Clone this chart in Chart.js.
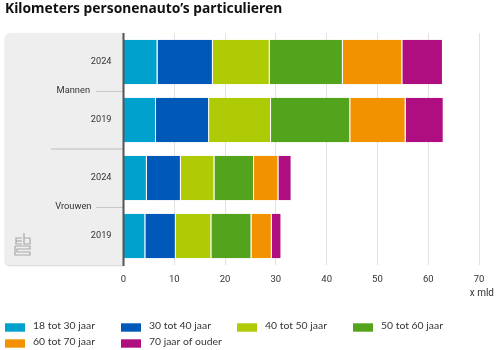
<!DOCTYPE html>
<html><head><meta charset="utf-8">
<style>html,body{margin:0;padding:0;background:#fff}#w{width:500px;height:350px;position:relative}</style>
<script src="https://cdn.jsdelivr.net/npm/chart.js@4"></script></head>
<body><div id="w"><canvas id="c" width="500" height="350"></canvas></div>
<script>
const titleText = "Kilometers personenauto’s particulieren";
const unitLabel = "x mld";
const categories = ["2024","2019","2024","2019"];
const groups = ["Mannen","Vrouwen"];
const age18 = [6.7,6.4,4.6,4.3];
const age30 = [10.9,10.45,6.7,6.0];
const age40 = [11.2,12.2,6.6,7.0];
const age50 = [14.4,15.6,7.8,7.9];
const age60 = [11.7,10.9,4.8,4.0];
const age70 = [8.0,7.5,2.6,1.9];
const seriesNames = ["18 tot 30 jaar","30 tot 40 jaar","40 tot 50 jaar","50 tot 60 jaar","60 tot 70 jaar","70 jaar of ouder"];
const seriesColors = ["#00a1cd","#0058b8","#afcb05","#53a31d","#f39200","#af0e80"];
const seriesValues = [age18,age30,age40,age50,age60,age70];
const FONT = 'Roboto';

const decor = {
  id:'decor',
  beforeDraw(chart){
    const {ctx,chartArea:a,scales:{y}} = chart;
    ctx.save();
    ctx.shadowColor='rgba(0,0,0,0.18)';ctx.shadowBlur=2;ctx.shadowOffsetY=1;ctx.shadowOffsetX=0;
    ctx.fillStyle='#eeeeee';
    ctx.beginPath();ctx.roundRect(5,a.top,a.left-5,a.bottom-a.top,[5,0,0,5]);ctx.fill();
    ctx.restore();
    ctx.save();
    ctx.fillStyle='#333';ctx.font='9.3px '+FONT;ctx.textAlign='center';ctx.textBaseline='middle';
    ctx.strokeStyle='#c8c8c8';ctx.lineWidth=1;
    groups.forEach((g,i)=>{
      const yy=(y.getPixelForValue(i*2)+y.getPixelForValue(i*2+1))/2;
      ctx.fillText(g,73.3,yy);
      ctx.beginPath();ctx.moveTo(96,yy+.5);ctx.lineTo(a.left,yy+.5);ctx.stroke();
    });
    const sy=(y.getPixelForValue(1)+y.getPixelForValue(2))/2;
    ctx.lineWidth=2;ctx.strokeStyle='#d6d6d6';
    ctx.beginPath();ctx.moveTo(51,sy);ctx.lineTo(a.left,sy);ctx.stroke();
    // logo
    ctx.strokeStyle='#a8a8a8';ctx.lineWidth=1.2;
    const L=[
      [[22,238],[16,238],[16,244],[22,244]],
      [[16,241],[22,241]],
      [[24,233],[24,244],[30,244],[30,238],[24,238]],
      [[15,246],[30,246],[30,249],[17,249],[17,252],[30,252],[30,255],[15,255],[15,246]]
    ];
    L.forEach(p=>{ctx.beginPath();p.forEach((q,i)=>i?ctx.lineTo(q[0],q[1]):ctx.moveTo(q[0],q[1]));ctx.stroke();});
    ctx.restore();
  },
  afterDraw(chart){
    const {ctx,chartArea:a} = chart;
    ctx.save();
    ctx.fillStyle='#555';ctx.fillRect(a.left-1,a.top,2,a.bottom-a.top+1);
    ctx.fillStyle='#333';ctx.font='10px '+FONT;ctx.textBaseline='middle';ctx.textAlign='right';
    ctx.fillText(unitLabel,494,293);
    ctx.textAlign='left';ctx.font='10.4px Lato';
    chart.data.datasets.forEach((d,i)=>{
      const col=i%4,row=Math.floor(i/4);
      const x=5+col*116,yy=323.3+row*16;
      ctx.fillStyle=d.backgroundColor;ctx.fillRect(x,yy,20,8.4);
      ctx.fillStyle='#333';ctx.fillText(d.label,x+28,yy+2.3);
    });
    ctx.restore();
  }
};

new Chart(document.getElementById('c'),{
  type:'bar',
  data:{labels:categories,datasets:seriesNames.map((n,i)=>({
    label:n,data:seriesValues[i],backgroundColor:seriesColors[i],
    borderColor:'rgba(255,255,255,0.7)',borderWidth:{left:0,right:1,top:0,bottom:0},
    categoryPercentage:1,barPercentage:0.77,stack:'s'}))},
  options:{
    indexAxis:'y',responsive:false,animation:false,
    layout:{padding:{left:5,right:21,top:0,bottom:64}},
    plugins:{
      legend:{display:false},tooltip:{enabled:false},
      title:{display:true,text:titleText,align:'start',color:'#111',
        font:{family:'"Noto Sans"',size:13.8,weight:'bold'},padding:{top:1,bottom:15.4}}
    },
    scales:{
      x:{stacked:true,min:0,max:70,
        ticks:{stepSize:10,color:'#333',font:{family:FONT,size:9.5},padding:9,maxRotation:0},
        grid:{color:'#e2e2e2',lineWidth:1,drawTicks:false},border:{display:false},
        afterFit(s){s.height=21;}},
      y:{stacked:true,
        ticks:{color:'#333',font:{family:FONT,size:9.2},padding:12},
        grid:{display:false,drawTicks:false},border:{display:false},
        afterFit(s){s.width=118.5;}}
    }
  },
  plugins:[decor]
});
</script></body></html>
